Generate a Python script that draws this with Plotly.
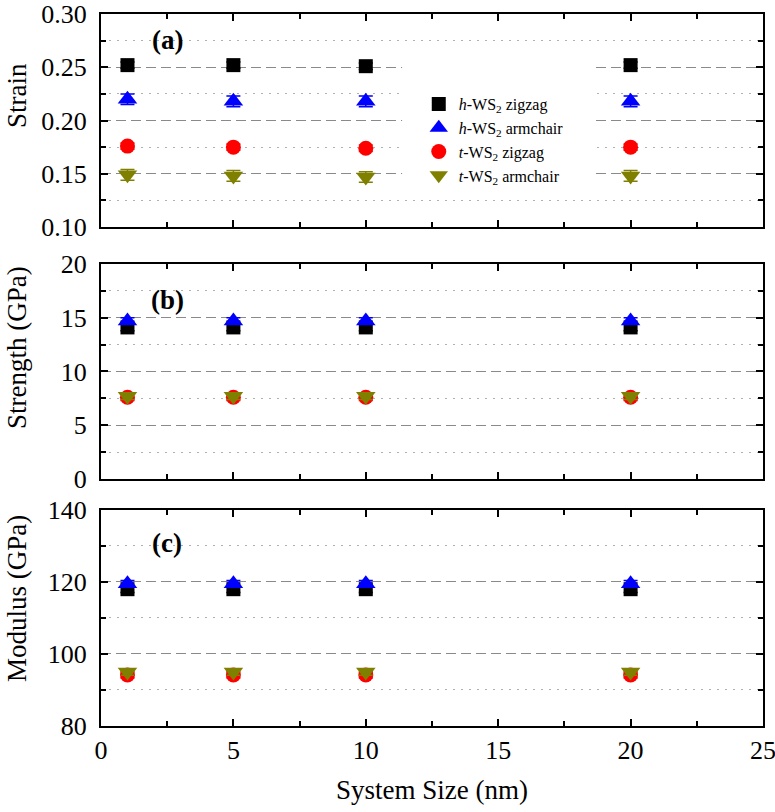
import plotly.graph_objects as go

# ---------------- data ----------------
system_size = [1, 5, 10, 20]
x_ticks = [0, 5, 10, 15, 20, 25]

series_names = [
    "<i>h</i>-WS<sub>2</sub> zigzag",
    "<i>h</i>-WS<sub>2</sub> armchair",
    "<i>t</i>-WS<sub>2</sub> zigzag",
    "<i>t</i>-WS<sub>2</sub> armchair",
]

strain_h_zigzag = [0.252, 0.252, 0.251, 0.252]
strain_h_armchair = [0.220, 0.218, 0.218, 0.218]
strain_t_zigzag = [0.176, 0.175, 0.174, 0.175]
strain_t_armchair = [0.149, 0.148, 0.147, 0.148]
strain_err_h_zigzag = [0.003, 0.003, 0.003, 0.003]
strain_err_h_armchair = [0.005, 0.005, 0.005, 0.005]
strain_err_t_zigzag = [0.003, 0.003, 0.003, 0.003]
strain_err_t_armchair = [0.005, 0.005, 0.005, 0.005]

strength_h_zigzag = [14.1, 14.1, 14.1, 14.1]
strength_h_armchair = [14.7, 14.7, 14.7, 14.7]
strength_t_zigzag = [7.6, 7.6, 7.6, 7.6]
strength_t_armchair = [7.7, 7.7, 7.7, 7.7]
strength_err = [0.3, 0.3, 0.3, 0.3]

modulus_h_zigzag = [118.0, 118.0, 118.0, 118.0]
modulus_h_armchair = [119.5, 119.5, 119.5, 119.5]
modulus_t_zigzag = [94.2, 94.2, 94.2, 94.2]
modulus_t_armchair = [95.0, 95.0, 95.0, 95.0]
modulus_err = [0.9, 0.9, 0.9, 0.9]

panel_labels = ["(a)", "(b)", "(c)"]
y_titles = ["Strain", "Strength (GPa)", "Modulus (GPa)"]

# ---------------- style ----------------
FONT = "Liberation Serif"
colors = ["#000000", "#0000FF", "#FF0000", "#808000"]
symbols = ["square", "triangle-up", "circle", "triangle-down"]
sizes = [14, 17, 15, 17]

panels = [
    dict(vals=[strain_h_zigzag, strain_h_armchair, strain_t_zigzag, strain_t_armchair],
         errs=[strain_err_h_zigzag, strain_err_h_armchair, strain_err_t_zigzag, strain_err_t_armchair],
         rng=[0.10, 0.30], dtick=0.05, minor=0.025, fmt=".2f", domain=[0.7008, 1.0],
         label_y=0.276, title_y=0.8862),
    dict(vals=[strength_h_zigzag, strength_h_armchair, strength_t_zigzag, strength_t_armchair],
         errs=[strength_err] * 4,
         rng=[0, 20], dtick=5, minor=2.5, fmt="d", domain=[0.3469, 0.6489],
         label_y=16.65, title_y=0.5323),
    dict(vals=[modulus_h_zigzag, modulus_h_armchair, modulus_t_zigzag, modulus_t_armchair],
         errs=[modulus_err] * 4,
         rng=[80, 140], dtick=20, minor=10, fmt="d", domain=[0.0, 0.3034],
         label_y=130.8, title_y=0.1798),
]

fig = go.Figure()

for p_i, p in enumerate(panels):
    xa = "x" if p_i == 0 else f"x{p_i+1}"
    ya = "y" if p_i == 0 else f"y{p_i+1}"
    for s_i in range(4):
        fig.add_trace(go.Scatter(
            x=system_size, y=p["vals"][s_i],
            mode="markers",
            name=series_names[s_i],
            legendgroup=str(s_i),
            showlegend=(p_i == 0),
            marker=dict(symbol=symbols[s_i], size=sizes[s_i], color=colors[s_i],
                        line=dict(width=0)),
            error_y=dict(type="data", array=p["errs"][s_i], visible=True,
                         color=colors[s_i], thickness=1.5, width=7),
            xaxis=xa, yaxis=ya,
        ))

axis_common = dict(
    showline=True, linecolor="black", linewidth=2, mirror="ticks",
    ticks="inside", ticklen=7, tickwidth=2, tickcolor="black",
    tickfont=dict(family=FONT, size=26, color="black"),
    zeroline=False, automargin=False, ticklabeloverflow="allow",
)

layout = dict(
    width=775, height=812,
    margin=dict(l=101, r=12, t=14, b=86),
    paper_bgcolor="white", plot_bgcolor="white",
    font=dict(family=FONT, size=24, color="black"),
    showlegend=True,
    legend=dict(x=0.48, y=0.8975, xanchor="left", yanchor="top",
                bgcolor="rgba(255,255,255,1)", borderwidth=0,
                font=dict(family=FONT, size=16, color="black"),
                tracegroupgap=0),
)

for p_i, p in enumerate(panels):
    xk = "xaxis" if p_i == 0 else f"xaxis{p_i+1}"
    yk = "yaxis" if p_i == 0 else f"yaxis{p_i+1}"
    yref = "y" if p_i == 0 else f"y{p_i+1}"
    xref = "x" if p_i == 0 else f"x{p_i+1}"
    layout[xk] = dict(
        axis_common, domain=[0, 1], range=[0, 25], tickvals=x_ticks,
        showticklabels=(p_i == 2), showgrid=False, anchor=yref,
        minor=dict(dtick=2.5, tick0=0, ticks="inside", ticklen=5, tickwidth=2,
                   tickcolor="black", showgrid=False),
        title=dict(text="System Size (nm)" if p_i == 2 else "",
                   font=dict(family=FONT, size=27), standoff=16),
    )
    layout[yk] = dict(
        axis_common, domain=p["domain"], range=p["rng"], dtick=p["dtick"], tick0=p["rng"][0],
        tickformat=p["fmt"], anchor=xref, ticklabelstandoff=7,
        showgrid=True, gridcolor="#8a8a8a", gridwidth=1.3, griddash="10px,5px",
        minor=dict(dtick=p["minor"], tick0=p["rng"][0], ticks="inside", ticklen=5, tickwidth=2,
                   tickcolor="black", showgrid=True, gridcolor="#b0b0b0", gridwidth=1.3,
                   griddash="2px,6px"),
    )

fig.update_layout(**layout)

for p_i, p in enumerate(panels):
    xref = "x" if p_i == 0 else f"x{p_i+1}"
    yref = "y" if p_i == 0 else f"y{p_i+1}"
    fig.add_annotation(x=2.5, y=p["label_y"], xref=xref, yref=yref, text=f"<b>{panel_labels[p_i]}</b>",
                       showarrow=False, font=dict(family=FONT, size=27, color="black"),
                       xanchor="center", yanchor="middle")
    # y-axis titles
    fig.add_annotation(x=-0.127, y=p["title_y"], xref="paper", yref="paper", text=y_titles[p_i],
                       textangle=-90, showarrow=False, font=dict(family=FONT, size=27, color="black"),
                       xanchor="center", yanchor="middle")

# white backing behind the legend (covers grid lines like the original legend box)
fig.add_shape(type="rect", xref="x", yref="y", x0=11.37, x1=18.54, y0=0.131, y1=0.262,
              fillcolor="white", line=dict(width=0), layer="between")

# remove the browser's default 8px body margin so the figure fills the window exactly
fig.write_html("out.html",
               config={"displayModeBar": False},
               post_script="document.body.style.margin='0';document.body.style.overflow='hidden';")
